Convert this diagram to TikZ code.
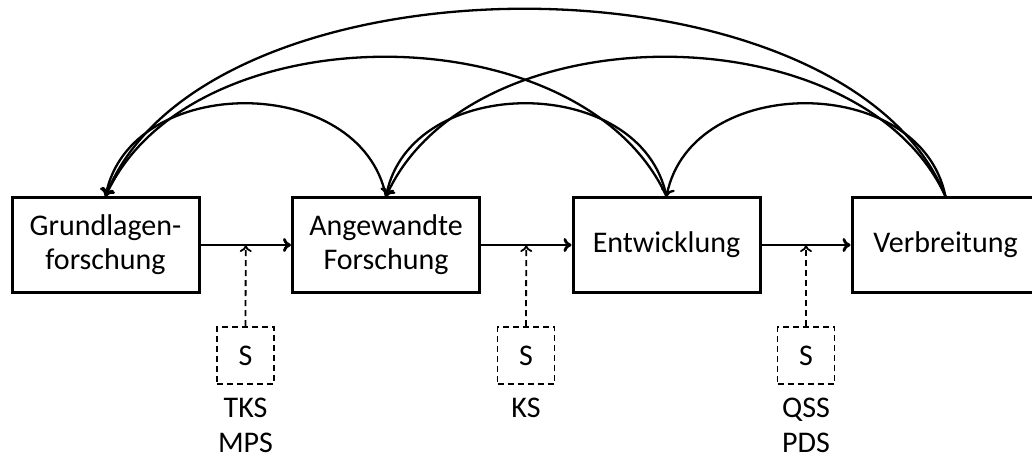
\documentclass[tikz,border=0pt]{standalone}
\usepackage{fontspec}
\setmainfont{Carlito}
\usetikzlibrary{arrows.meta,calc}
\begin{document}
\begin{tikzpicture}[x=1pt,y=1pt,
  txt/.style={font=\fontsize{30}{34}\selectfont},
  box/.style={txt,draw,line width=3pt,minimum width=187pt,minimum height=94pt,align=center,inner sep=0pt},
  sbox/.style={txt,draw,dash pattern=on 6pt off 4pt,line width=1.8pt,minimum size=57pt,inner sep=0pt},
  lbl/.style={txt,anchor=base,inner sep=0pt},
  flow/.style={line width=2.8pt,-{To[length=8pt,width=14pt]}},
  feed/.style={line width=2.3pt,-{To[length=8pt,width=14pt]}},
  ctrl/.style={line width=1.8pt,dash pattern=on 6pt off 4pt,-{To[length=7pt,width=12pt]}}
]
\useasboundingbox (0,0) rectangle (1032,458);
\clip (0,0) rectangle (1032,458);

% main boxes
\node[box] (b1) at (105.5,213) {Grundlagen-\\forschung};
\node[box] (b2) at (386,213) {Angewandte\\Forschung};
\node[box] (b3) at (666.5,213) {Entwicklung};
\node[box] (b4) at (945.5,213) {Verbreitung};

% flow arrows
\draw[flow] (b1.east) -- (b2.west);
\draw[flow] (b2.east) -- (b3.west);
\draw[flow] (b3.east) -- (b4.west);

\coordinate (m1) at ($(b1.east)!0.5!(b2.west)$);
\coordinate (m2) at ($(b2.east)!0.5!(b3.west)$);
\coordinate (m3) at ($(b3.east)!0.5!(b4.west)$);

% S boxes
\node[sbox] (s1) at (245.5,102.5) {S};
\node[sbox] (s2) at (526,102.5) {S};
\node[sbox] (s3) at (806,102.5) {S};

\draw[ctrl] (s1.north) -- (m1);
\draw[ctrl] (s2.north) -- (m2);
\draw[ctrl] (s3.north) -- (m3);

% labels
\node[lbl] (l1a) at (245.5,41) {TKS};
\node[lbl] (l1b) at (245.5,6) {MPS};
\node[lbl] (l2) at (526,41) {KS};
\node[lbl] (l3a) at (806,41) {QSS};
\node[lbl] (l3b) at (806,6) {PDS};

% feedback arcs
\draw[feed] (b2.north) .. controls +(-25,124) and +(25,124) .. (b1.north);
\draw[feed] (b3.north) .. controls +(-25,124) and +(25,124) .. (b2.north);
\draw[feed] (b4.north) .. controls +(-25,124) and +(25,124) .. (b3.north);
\draw[feed] (b3.north) .. controls +(-85,186) and +(85,186) .. (b1.north);
\draw[feed] (b4.north) .. controls +(-85,186) and +(85,186) .. (b2.north);
\draw[feed] (b4.north) .. controls +(-100,250) and +(100,250) .. (b1.north);
\end{tikzpicture}
\end{document}
